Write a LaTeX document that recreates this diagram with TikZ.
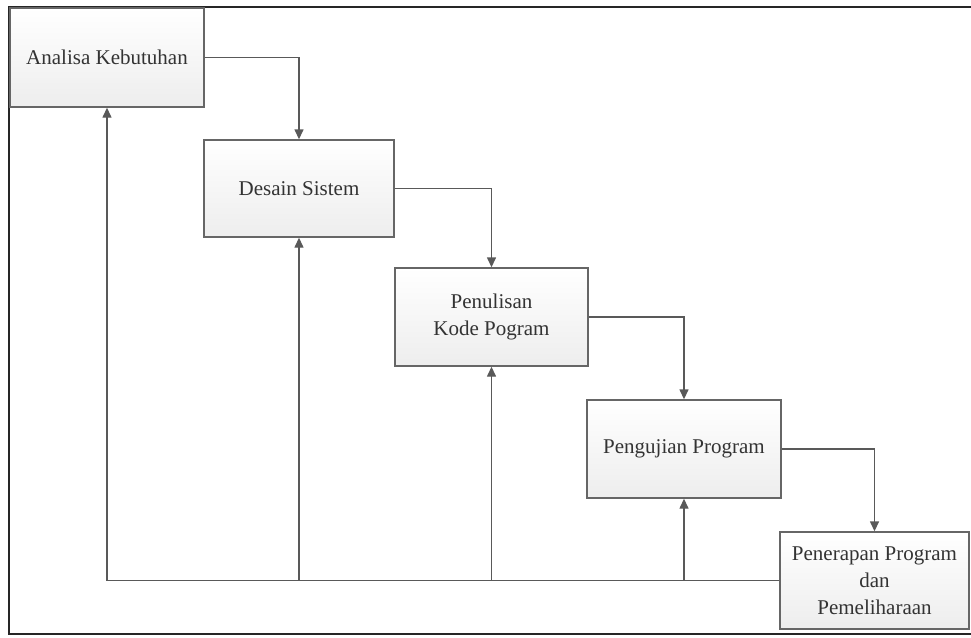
\documentclass[tikz,border=0pt]{standalone}
\usepackage{fontspec}
\setmainfont{Liberation Serif}
\usetikzlibrary{arrows.meta}
\begin{document}
\begin{tikzpicture}[x=1pt,y=-1pt,
  stepbox/.style={draw=black!60, line width=1.4pt, top color=white, bottom color=black!7,
    text=black!80, inner sep=0pt, align=center,
    font=\fontsize{21}{27}\selectfont},
  flow/.style={draw=black!65, line width=1.4pt, -{Triangle[length=10pt,width=9pt]}},
  fline/.style={draw=black!65, line width=1.4pt}]
\useasboundingbox (0,0) rectangle (971,637);
\draw[line width=2.4pt, black!85] (971,7) -- (9,7) -- (9,634) -- (971,634);
\node[stepbox, minimum width=194pt, minimum height=99pt] (b1) at (107,57.5) {Analisa Kebutuhan};
\node[stepbox, minimum width=190pt, minimum height=97pt] (b2) at (299,188.5) {Desain Sistem};
\node[stepbox, minimum width=193pt, minimum height=98pt] (b3) at (491.5,317) {Penulisan\\Kode Pogram};
\node[stepbox, minimum width=194pt, minimum height=98pt] (b4) at (684,449) {Pengujian Program};
\node[stepbox, minimum width=189pt, minimum height=97pt] (b5) at (874.5,580.5) {Penerapan Program\\dan\\Pemeliharaan};
\draw[flow] (b1.east) -| (b2.north);
\draw[flow] (b2.east) -| (b3.north);
\draw[flow] (b3.east) -| (b4.north);
\draw[flow] (b4.east) -| (b5.north);
\coordinate (f1) at (b1.south |- b5.west);
\coordinate (f2) at (b2.south |- b5.west);
\coordinate (f3) at (b3.south |- b5.west);
\coordinate (f4) at (b4.south |- b5.west);
\draw[fline] (b5.west) -- (f1);
\draw[flow] (f1) -- (b1.south);
\draw[flow] (f2) -- (b2.south);
\draw[flow] (f3) -- (b3.south);
\draw[flow] (f4) -- (b4.south);
\end{tikzpicture}
\end{document}
